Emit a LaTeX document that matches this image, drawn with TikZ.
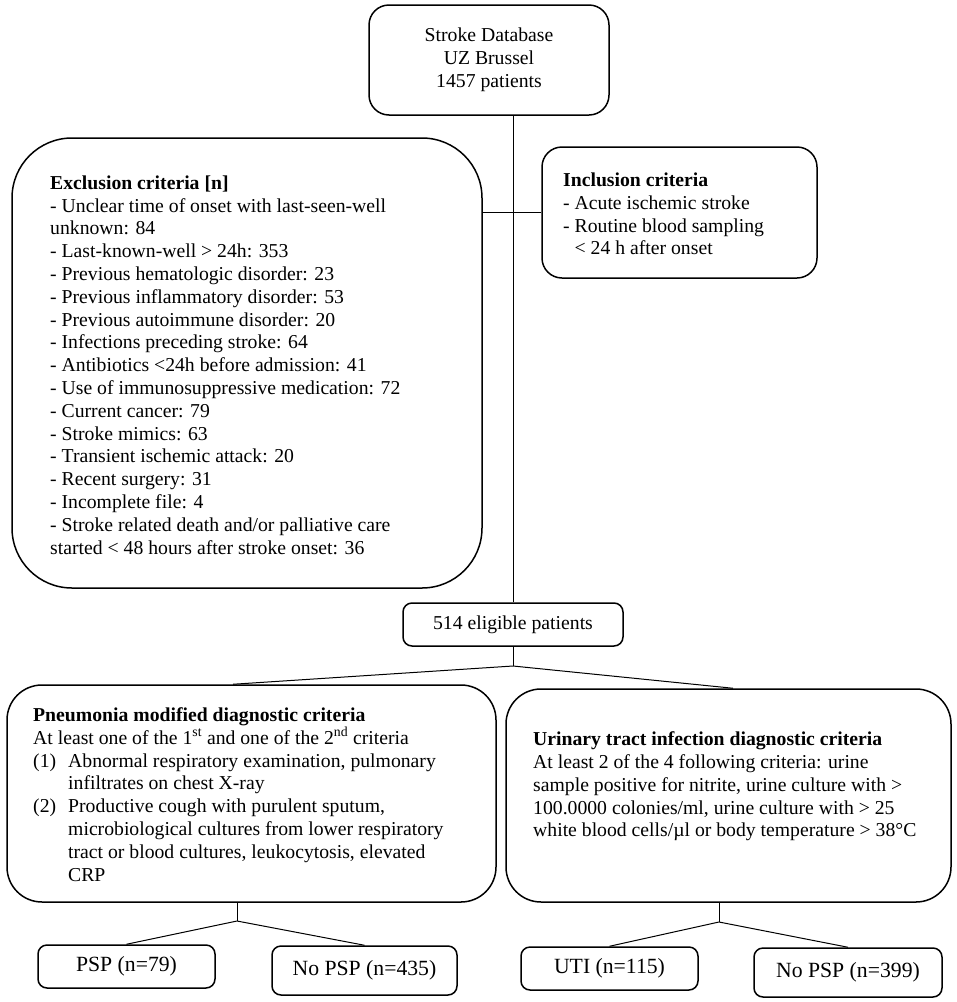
\documentclass[tikz,border=0pt]{standalone}
\usepackage{fontspec}
\setmainfont{Liberation Serif}
\usepackage{tikz}
\usetikzlibrary{positioning}
\newcommand{\pnhang}{\hspace*{35pt}}
\tikzset{
  bigbox/.style={draw, line width=1.5pt, inner sep=0pt},
  smallbox/.style={draw, line width=1.5pt, rounded corners=9pt, inner sep=0pt, align=center, font=\fontsize{19.7}{22.8}\selectfont},
  note/.style={inner sep=0pt, align=left, anchor=west, font=\fontsize{19.7}{22.8}\selectfont},
  link/.style={line width=1pt}
}

\begin{document}
\begin{tikzpicture}[x=1pt,y=-1pt]
\useasboundingbox (0,0) rectangle (957,1002);
% database, exclusion and inclusion
\node[smallbox, rounded corners=20pt, minimum width=240pt, minimum height=110pt] (db) at (489,60) {Stroke Database\\UZ Brussel\\1457 patients};
\node[bigbox, rounded corners=60pt, minimum width=470pt, minimum height=450pt] (excl) at (247,363) {};
\node[note] (excltext) at (50,365) {\textbf{Exclusion criteria [n]}\\
- Unclear time of onset with last-seen-well\\
unknown: 84\\
- Last-known-well > 24h: 353\\
- Previous hematologic disorder: 23\\
- Previous inflammatory disorder: 53\\
- Previous autoimmune disorder: 20\\
- Infections preceding stroke: 64\\
- Antibiotics <24h before admission: 41\\
- Use of immunosuppressive medication: 72\\
- Current cancer: 79\\
- Stroke mimics: 63\\
- Transient ischemic attack: 20\\
- Recent surgery: 31\\
- Incomplete file: 4\\
- Stroke related death and/or palliative care\\
started < 48 hours after stroke onset: 36};
\node[bigbox, rounded corners=20pt, minimum width=275pt, minimum height=131pt] (incl) at (679.5,212.5) {};
\node[note] (incltext) at (563,214) {\textbf{Inclusion criteria}\\
- Acute ischemic stroke\\
- Routine blood sampling\\
\hphantom{- }< 24 h after onset};
\node[smallbox, minimum width=220pt, minimum height=43pt] (elig) at (513,624.5) {514 eligible patients};
% diagnostic criteria
\node[bigbox, rounded corners=35pt, minimum width=489pt, minimum height=217pt] (pneu) at (251.5,793.5) {};
\node[note] (pneutext) at (33,794.5) {\textbf{Pneumonia modified diagnostic criteria}\\
At least one of the 1\textsuperscript{st} and one of the 2\textsuperscript{nd} criteria\\
\makebox[35pt][l]{(1)}Abnormal respiratory examination, pulmonary\\
\pnhang infiltrates on chest X-ray\\
\makebox[35pt][l]{(2)}Productive cough with purulent sputum,\\
\pnhang microbiological cultures from lower respiratory\\
\pnhang tract or blood cultures, leukocytosis, elevated\\
\pnhang CRP};
\node[bigbox, rounded corners=35pt, minimum width=445pt, minimum height=213pt] (uti) at (728.5,795.5) {};
\node[note] (utitext) at (533,786.5) {\textbf{Urinary tract infection diagnostic criteria}\\
At least 2 of the 4 following criteria: urine\\
sample positive for nitrite, urine culture with >\\
100.0000 colonies/ml, urine culture with > 25\\
white blood cells/µl or body temperature > 38°C};
% outcomes
\node[smallbox, font=\fontsize{21.7}{24}\selectfont, minimum width=177pt, minimum height=43pt] (psp) at (126.5,966.5) {PSP (n=79)};
\node[smallbox, font=\fontsize{21.7}{24}\selectfont, minimum width=185pt, minimum height=49pt] (nopsp) at (364.5,970.5) {No PSP (n=435)};
\node[smallbox, font=\fontsize{21.7}{24}\selectfont, minimum width=177pt, minimum height=43pt] (utiyes) at (609.5,968.5) {UTI (n=115)};
\node[smallbox, font=\fontsize{21.7}{24}\selectfont, minimum width=188pt, minimum height=49pt] (utino) at (848,972.5) {No PSP (n=399)};
% connectors
\coordinate (split) at (513,666);
\coordinate (pnsplit) at (237,921);
\coordinate (utisplit) at (719,922);
\draw[link] (db.south -| elig.north) -- (elig.north);
\draw[link] (excl.east |- incl.west) -- (incl.west);
\draw[link] (elig.south) -- (split);
\draw[link] ([xshift=-18.5pt]pneu.north) -- (split) -- ([xshift=4.5pt]uti.north);
\draw[link] (pneu.south -| pnsplit) -- (pnsplit);
\draw[link] (psp.north) -- (pnsplit) -- (nopsp.north);
\draw[link] (uti.south -| utisplit) -- (utisplit);
\draw[link] (utiyes.north) -- (utisplit) -- (utino.north);
\end{tikzpicture}
\end{document}
